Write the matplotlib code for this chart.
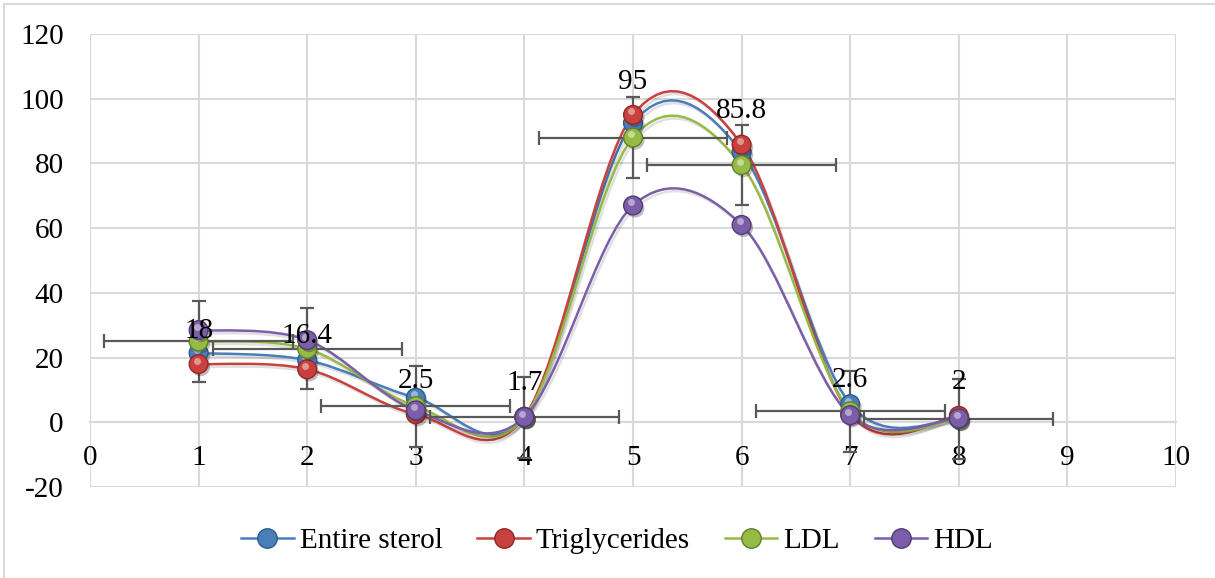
import numpy as np
import matplotlib
matplotlib.use('Agg')
import matplotlib.pyplot as plt
from matplotlib.path import Path
from matplotlib.patches import PathPatch, Rectangle
from matplotlib.lines import Line2D
import matplotlib.patheffects as pe
from matplotlib.transforms import offset_copy

plt.rcParams['font.family'] = ['Liberation Serif', 'DejaVu Serif']
plt.rcParams['axes.unicode_minus'] = False

# Data
x = [1, 2, 3, 4, 5, 6, 7, 8]
entire_sterol = [21.4, 19.2, 7.6, 1.7, 92.5, 83.5, 5.6, 1.0]
triglycerides = [18, 16.4, 2.5, 1.7, 95, 85.8, 2.6, 2]
ldl = [25, 22.7, 5.0, 1.5, 88, 79.5, 3.4, 1.0]
hdl = [28.5, 25.4, 3.7, 1.6, 67, 61, 2.2, 1.2]
ldl_yerr = [12.5, 12.5, 12.5, 12.5, 12.5, 12.5, 12.5, 12.5]
ldl_xerr = [0.87, 0.87, 0.87, 0.87, 0.87, 0.87, 0.87, 0.87]

names = ['Entire sterol', 'Triglycerides', 'LDL', 'HDL']
series = [entire_sterol, triglycerides, ldl, hdl]
colors = ['#4a7ebb', '#c9413e', '#96bb45', '#7b5ea7']
dark = ['#2c5a8f', '#8e2a28', '#62802a', '#513c75']

x_ticks = list(range(0, 11))
y_ticks = list(range(-20, 121, 20))
grid_c = '#d9d9d9'
fs = 21


def smooth_path(xs, ys):
    # Excel style smoothed line: cubic bezier between points
    pts = np.column_stack([xs, ys]).astype(float)
    n = len(pts)
    verts = [pts[0]]
    codes = [Path.MOVETO]
    for i in range(n - 1):
        p0 = pts[max(i - 1, 0)]
        p1 = pts[i]
        p2 = pts[i + 1]
        p3 = pts[min(i + 2, n - 1)]
        c1 = p1 + (p2 - p0) / 6.0
        c2 = p2 - (p3 - p1) / 6.0
        verts += [c1, c2, p2]
        codes += [Path.CURVE4] * 3
    return Path(verts, codes)


fig = plt.figure(figsize=(12.15, 5.78), dpi=100)
ax = fig.add_axes([90 / 1215, 1 - 487 / 578, 1086 / 1215, 453 / 578])

# outer chart border (left and top visible)
fig.add_artist(Rectangle((4 / 1215, -0.1), 1.2, 1.1 - 4 / 578,
                         transform=fig.transFigure, fill=False,
                         edgecolor=grid_c, linewidth=1.5))

ax.set_xlim(0, 10)
ax.set_ylim(-20, 120)
ax.set_xticks(x_ticks)
ax.set_yticks(y_ticks)
ax.grid(True, color=grid_c, linewidth=1.5, zorder=0)
ax.set_axisbelow(True)
for s in ['top', 'right', 'left']:
    ax.spines[s].set_visible(False)
ax.spines['bottom'].set_position(('data', 0))
ax.spines['bottom'].set_color(grid_c)
ax.spines['bottom'].set_linewidth(1.5)
ax.tick_params(axis='both', length=0, labelsize=fs)
ax.tick_params(axis='x', pad=16)
ax.tick_params(axis='y', pad=19)

# smoothed lines
for i, (ys, c) in enumerate(zip(series, colors)):
    patch = PathPatch(smooth_path(x, ys), facecolor='none', edgecolor=c,
                      linewidth=1.8, zorder=3, transform=ax.transData)
    patch.set_path_effects([pe.SimpleLineShadow(offset=(1.5, -2), shadow_color='k', alpha=0.12),
                            pe.Normal()])
    ax.add_patch(patch)

# error bars on LDL
ax.errorbar(x, ldl, yerr=ldl_yerr, xerr=ldl_xerr, fmt='none', ecolor='#595959',
            elinewidth=1.6, capsize=5, capthick=1.6, zorder=3.5)

# ball markers
hl = offset_copy(ax.transData, fig=fig, x=-1.5, y=2.5, units='points')
for i, (ys, c, d) in enumerate(zip(series, colors, dark)):
    ax.plot(x, ys, linestyle='none', marker='o', markersize=13.5,
            markerfacecolor=c, markeredgecolor=d, markeredgewidth=1.0, zorder=4 + i,
            path_effects=[pe.SimplePatchShadow(offset=(1.5, -2), alpha=0.3), pe.Normal()])
    ax.plot(x, ys, linestyle='none', marker='o', markersize=5,
            markerfacecolor='white', markeredgecolor='none', alpha=0.45,
            zorder=4.5 + i, transform=hl)

# data labels for triglycerides
for xi, yi in zip(x, triglycerides):
    ax.annotate(f'{yi:g}', (xi, yi), xytext=(0, 19), textcoords='offset points',
                ha='center', va='baseline', fontsize=fs, zorder=10)

# legend
handles = [Line2D([], [], color=c, linewidth=1.8, marker='o', markersize=14,
                  markerfacecolor=c, markeredgecolor=d, markeredgewidth=1.0)
           for c, d in zip(colors, dark)]
fig.legend(handles, names, loc='center', bbox_to_anchor=(617 / 1215, 1 - 541 / 578),
           ncol=4, frameon=False, fontsize=fs, handlelength=1.8,
           handletextpad=0.2, columnspacing=1.2)

fig.savefig('out.png', dpi=100)
